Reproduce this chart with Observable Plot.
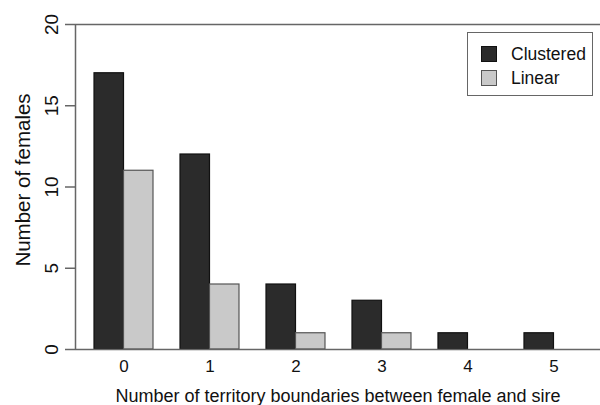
<!DOCTYPE html>
<html>
<head>
<meta charset="utf-8">
<script src="https://cdn.jsdelivr.net/npm/d3@7"></script>
<script src="https://cdn.jsdelivr.net/npm/@observablehq/plot@0.6"></script>
<style>
  html, body { margin: 0; padding: 0; background: #fff; }
  #wrap { position: relative; width: 600px; height: 405px; overflow: hidden; font-family: "Liberation Sans", Arial, Helvetica, sans-serif; }
  #legend { position: absolute; left: 467px; top: 32px; width: 126px; height: 64px; border: 1px solid #666; box-sizing: border-box; background: #fff; }
  .li { position: absolute; left: 13px; display: flex; align-items: center; font-size: 17.5px; color: #111; line-height: 18px; }
  .sw { width: 16px; height: 16px; box-sizing: border-box; margin-right: 14px; }
</style>
</head>
<body>
<div id="wrap"></div>
<script>
const categories = [0, 1, 2, 3, 4, 5];
const clustered = [17, 12, 4, 3, 1, 1];
const linear = [11, 4, 1, 1, 0, 0];
const seriesNames = ["Clustered", "Linear"];
const yTicks = [0, 5, 10, 15, 20];
const seriesColors = ["#2b2b2b", "#c9c9c9"];
const seriesStrokes = ["#111111", "#555555"];

const barW = 0.343;
const rows = [];
categories.forEach((c, i) => {
  rows.push({cat: c, series: seriesNames[0], value: clustered[i], x1: c - barW, x2: c});
  rows.push({cat: c, series: seriesNames[1], value: linear[i], x1: c, x2: c + barW});
});
const xMin = -0.564, xMax = 5.541;

const chart = Plot.plot({
  width: 600,
  height: 405,
  marginLeft: 75,
  marginRight: 0,
  marginTop: 24,
  marginBottom: 56,
  style: {fontFamily: '"Liberation Sans", Arial, Helvetica, sans-serif', fontSize: "17px", color: "#111", background: "#fff"},
  x: {domain: [xMin, xMax], axis: null},
  y: {domain: [0, 20]},
  color: {domain: seriesNames, range: seriesColors},
  marks: [
    Plot.rectY(rows.filter(d => d.value > 0), {x1: "x1", x2: "x2", y1: 0, y2: "value", fill: "series",
      stroke: d => d.series === seriesNames[0] ? seriesStrokes[0] : seriesStrokes[1], strokeWidth: 1.2}),
    Plot.ruleY([0, 20], {stroke: "#666", strokeWidth: 1.5}),
    Plot.ruleX([xMin], {y1: 0, y2: 20, stroke: "#666", strokeWidth: 1.5}),
    Plot.axisY({ticks: yTicks, tickSize: 10, tickFormat: () => "", label: null, stroke: "#666", strokeWidth: 1.5}),
    Plot.text(yTicks, {x: xMin, y: d => d, text: d => String(d), dx: -24, rotate: -90, textAnchor: "middle", lineAnchor: "middle", fontSize: 19, fill: "#111"}),
    Plot.text(categories, {x: d => d, y: 0, text: d => String(d), dy: 17, textAnchor: "middle", lineAnchor: "middle", fontSize: 17, fill: "#111"}),
    Plot.text(["Number of females"], {text: d => d, frameAnchor: "left", dx: -52, dy: -7, rotate: -90, textAnchor: "middle", fontSize: 20.5}),
    Plot.text(["Number of territory boundaries between female and sire"], {text: d => d, frameAnchor: "bottom", dy: 52, fontSize: 18})
  ]
});
const wrap = document.getElementById("wrap");
wrap.appendChild(chart);

const legend = document.createElement("div");
legend.id = "legend";
seriesNames.forEach((name, i) => {
  const item = document.createElement("div");
  item.className = "li";
  item.style.top = (i === 0 ? 12 : 36) + "px";
  const sw = document.createElement("div");
  sw.className = "sw";
  sw.style.background = seriesColors[i];
  sw.style.border = "1px solid " + seriesStrokes[i];
  const t = document.createElement("span");
  t.textContent = name;
  item.appendChild(sw);
  item.appendChild(t);
  legend.appendChild(item);
});
wrap.appendChild(legend);
</script>
</body>
</html>
